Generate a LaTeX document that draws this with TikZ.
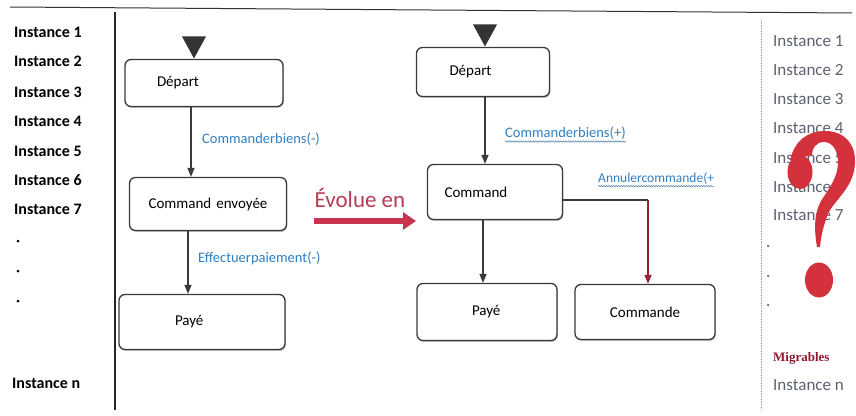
\documentclass[tikz,border=0pt]{standalone}
\usepackage{fontspec}
\setmainfont{Carlito}
\newfontfamily\qfont{Liberation Serif}
\usetikzlibrary{arrows.meta,shapes.geometric,shadows,decorations.pathmorphing}

\definecolor{boxline}{HTML}{3A3A3A}
\definecolor{eventblue}{HTML}{2F7FC1}
\definecolor{evolred}{HTML}{B83A55}
\definecolor{evolarrow}{HTML}{C8334F}
\definecolor{cancelred}{HTML}{9B2335}
\definecolor{instgray}{HTML}{5B6170}
\definecolor{qred}{HTML}{D3313B}
\definecolor{migred}{HTML}{8E1B2E}

\begin{document}
\begin{tikzpicture}[x=1pt,y=-1pt,
  statebox/.style={draw=boxline, line width=1.3pt, rounded corners=6pt, fill=white,
    drop shadow={shadow xshift=0.8pt, shadow yshift=-1.4pt, opacity=0.5},
    font=\fontsize{15}{17}\selectfont, inner ysep=0pt},
  leftbox/.style={statebox, align=left},
  midbox/.style={statebox, align=center},
  starttri/.style={isosceles triangle, shape border rotate=-90, isosceles triangle stretches,
    minimum height=22pt, minimum width=24pt, inner sep=0pt, fill=boxline!90!black, draw=none},
  flow/.style={draw=boxline, line width=1.2pt, -{Triangle[width=7pt,length=9pt]}},
  event/.style={text=eventblue, font=\fontsize{14.5}{16}\selectfont, anchor=west, inner sep=0pt},
  wavy/.style={draw=eventblue!60!gray, line width=0.5pt, decorate,
    decoration={snake, amplitude=0.7pt, segment length=2.5pt}},
  instleft/.style={anchor=west, inner sep=0pt, font=\fontsize{16}{18}\selectfont\bfseries},
  instright/.style={anchor=west, inner sep=0pt, text=instgray, font=\fontsize{17}{19}\selectfont},
  dotmark/.style={circle, fill, inner sep=0pt, minimum size=3pt}
]
\useasboundingbox (0,0) rectangle (856,415);

% frame lines
\coordinate (topL) at (10,7);
\coordinate (topR) at (852,13);
\draw[line width=1pt, black!80] (topL) -- (topR);
\coordinate (sepAtop) at (115,12);
\coordinate (sepAbot) at (115,410);
\draw[line width=1.1pt, black!85] (sepAtop) -- (sepAbot);
\coordinate (sepBtop) at (761,20);
\coordinate (sepBbot) at (761,410);
\draw[line width=0.6pt, gray!70, densely dotted] (sepBtop) -- (sepBbot);

% instances, left column
\node[instleft] (l1) at (14,32) {Instance 1};
\node[instleft] (l2) at (14,61) {Instance 2};
\node[instleft] (l3) at (14,92) {Instance 3};
\node[instleft] (l4) at (14,121) {Instance 4};
\node[instleft] (l5) at (14,151) {Instance 5};
\node[instleft] (l6) at (14,180) {Instance 6};
\node[instleft] (l7) at (14,209) {Instance 7};
\node[dotmark] (ld1) at (18,241) {};
\node[dotmark] (ld2) at (18,271) {};
\node[dotmark] (ld3) at (18,301) {};
\node[instleft] (ln) at (12,383) {Instance n};

% initial machine
\node[starttri, anchor=apex] (s1) at (194,59) {};
\node[leftbox, minimum height=47pt, text width=94pt, inner xsep=32pt] (dep1) at (204,83) {Départ};
\node[midbox, minimum height=53pt, text width=141pt, inner xsep=8pt] (env1) at (208,204) {Command envoyée};
\node[leftbox, minimum height=55pt, text width=54pt, inner xsep=56pt] (pay1) at (202,322) {Payé};
\coordinate (a1) at (191,0);
\coordinate (a2) at (188,0);
\draw[flow] (dep1.south -| a1) -- (env1.north -| a1);
\draw[flow] (env1.south -| a2) -- (pay1.north -| a2);
\node[event] (e1) at (202,139) {Commanderbiens(-)};
\node[event] (e2) at (198,258) {Effectuerpaiement(-)};

% evolution
\node[text=evolred, font=\fontsize{23}{25}\selectfont, inner sep=0pt] (evo) at (360,198) {Évolue en};
\coordinate (evS) at (314,221);
\coordinate (evE) at (416,221);
\draw[evolarrow, line width=6pt, -{Triangle[width=17pt,length=13pt]}] (evS) -- (evE);

% evolved machine
\node[starttri, anchor=apex] (s2) at (485,47) {};
\node[leftbox, minimum height=49pt, text width=67pt, inner xsep=33pt] (dep2) at (483,72) {Départ};
\node[leftbox, minimum height=55pt, text width=101pt, inner xsep=17pt] (cmd2) at (495,192) {Command};
\node[leftbox, minimum height=57pt, text width=30pt, inner xsep=55pt] (pay2) at (487,312) {Payé};
\node[midbox, minimum height=55pt, text width=124pt, inner xsep=8pt] (com2) at (645,312) {Commande};
\coordinate (a3) at (485,0);
\coordinate (a4) at (483,0);
\draw[flow] (dep2.south -| a3) -- (cmd2.north -| a3);
\draw[flow] (cmd2.south -| a4) -- (pay2.north -| a4);
\coordinate (bend) at (648,200);
\draw[boxline, line width=1.2pt] (cmd2.east |- bend) -- (bend);
\draw[cancelred, line width=1.2pt, -{Triangle[width=7pt,length=9pt]}] (bend) -- (com2.north -| bend);
\node[event] (e3) at (505,133) {Commanderbiens(+)};
\node[event, font=\fontsize{13.5}{15}\selectfont] (e4) at (598,178) {Annulercommande(+};
\draw[wavy] ([yshift=-2pt]e3.south west) -- ([yshift=-2pt]e3.south east);
\draw[wavy] ([yshift=-2pt]e4.south west) -- ([yshift=-2pt]e4.south east);

% instances, right column
\node[instright] (r1) at (773,41) {Instance 1};
\node[instright] (r2) at (773,70) {Instance 2};
\node[instright] (r3) at (773,99) {Instance 3};
\node[instright] (r4) at (773,128) {Instance 4};
\node[instright] (r5) at (773,158) {Instance 5};
\node[instright] (r6) at (773,187) {Instance 6};
\node[instright] (r7) at (773,215) {Instance 7};
\node[dotmark, fill=instgray, minimum size=2.5pt] (rd1) at (768,246) {};
\node[dotmark, fill=instgray, minimum size=2.5pt] (rd2) at (768,276) {};
\node[dotmark, fill=instgray, minimum size=2.5pt] (rd3) at (768,305) {};
\node[anchor=west, inner sep=0pt, text=migred, font=\fontsize{13}{15}\qfont\bfseries] (mig) at (773,358) {Migrables};
\node[instright] (rn) at (773,385) {Instance n};

% big question mark drawn over the right column
\fill[qred]
  (790,160) .. controls (795,140) and (808,131) .. (825,131)
  .. controls (845,131) and (856,145) .. (855,163)
  .. controls (854,188) and (834,200) .. (828,214)
  .. controls (824,224) and (821,235) .. (820,247)
  -- (817,247)
  .. controls (814,230) and (814,213) .. (821,201)
  .. controls (830,187) and (838,177) .. (838,162)
  .. controls (838,150) and (832,142) .. (824,142)
  .. controls (816,142) and (812,148) .. (812,155)
  -- cycle;
\fill[qred] (800,172) ellipse [x radius=12.5, y radius=17];
\fill[qred] (819,280) ellipse [x radius=14, y radius=17.5];
\end{tikzpicture}
\end{document}
